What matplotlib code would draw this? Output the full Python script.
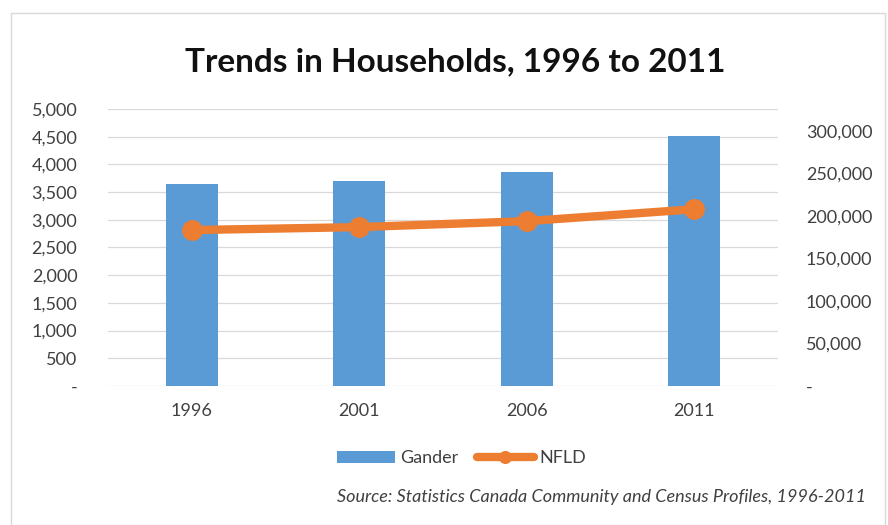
"""Trends in households, Gander vs NFLD, 1996 to 2011."""

import matplotlib.pyplot as plt
from matplotlib.patches import Rectangle
from matplotlib.ticker import FuncFormatter

years = ["1996", "2001", "2006", "2011"]
gander = [3650, 3700, 3860, 4510]
nfld = [183500, 187000, 194000, 208000]

BLUE = "#5b9bd5"
ORANGE = "#ed7d31"
TEXT = "#404040"

plt.rcParams["font.family"] = ["Lato", "DejaVu Sans"]


def thousands(value, _pos):
    return "-" if value == 0 else f"{value:,.0f}"


fig = plt.figure(figsize=(8.88, 5.25), dpi=100)
fig.patches.append(Rectangle((0.012, 0.0), 0.985, 0.975, transform=fig.transFigure,
                             fill=False, edgecolor="#d9d9d9", linewidth=1.0))

ax = fig.add_axes([0.1216, 0.2648, 0.7545, 0.5276])
x = range(len(years))
ax.bar(x, gander, width=0.31, color=BLUE, label="Gander", zorder=2)
ax.set_ylim(0, 5000)
ax.set_yticks(range(0, 5001, 500))
ax.yaxis.set_major_formatter(FuncFormatter(thousands))
ax.set_xlim(-0.5, len(years) - 0.5)
ax.set_xticks(list(x), years)
ax.grid(axis="y", color="#d9d9d9", linewidth=0.9, zorder=0)
ax.set_axisbelow(True)

ax2 = ax.twinx()
ax2.plot(list(x), nfld, color=ORANGE, linewidth=6, marker="o", markersize=14,
         label="NFLD", zorder=3, solid_capstyle="round")
ax2.set_ylim(0, 326000)
ax2.set_yticks(range(0, 300001, 50000))
ax2.yaxis.set_major_formatter(FuncFormatter(thousands))

for axis in (ax, ax2):
    for spine in axis.spines.values():
        spine.set_visible(False)
    axis.tick_params(length=0, labelsize=13, colors=TEXT)
ax.tick_params(axis="x", pad=12)
ax.tick_params(axis="y", pad=22)
ax2.tick_params(axis="y", pad=20)

fig.text(0.513, 0.882, "Trends in Households, 1996 to 2011", ha="center", va="center",
         fontsize=24, fontweight="bold", color="#111111")

handles = ax.get_legend_handles_labels()[0] + ax2.get_legend_handles_labels()[0]
fig.legend(handles, ["Gander", "NFLD"], loc="center", bbox_to_anchor=(0.52, 0.127),
           ncol=2, frameon=False, fontsize=13, handlelength=3.2, columnspacing=1.0,
           handletextpad=0.3, labelcolor=TEXT, markerscale=0.6)

fig.text(0.975, 0.053, "Source: Statistics Canada Community and Census Profiles, 1996-2011",
         ha="right", va="center", fontsize=13, style="italic", color=TEXT)

fig.savefig("out.png", dpi=100)
